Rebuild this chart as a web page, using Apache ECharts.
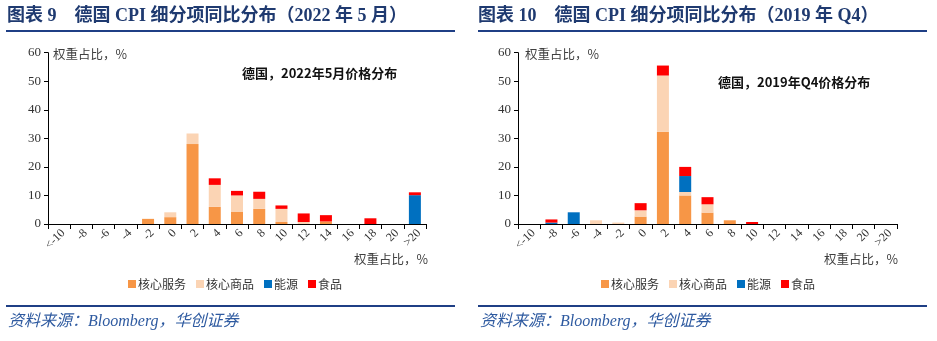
<!DOCTYPE html>
<html><head><meta charset="utf-8">
<script src="https://cdn.jsdelivr.net/npm/echarts@6/dist/echarts.min.js"></script>
<style>html,body{margin:0;padding:0;background:#fff}#c{width:937px;height:341px}</style>
</head><body><div id="c"></div>
<script>
var categories = ['<-10','-8','-6','-4','-2','0','2','4','6','8','10','12','14','16','18','20','>20'];
var yTicks = [0,10,20,30,40,50,60];
// Chart 9: 2022-05
var svc22  = [0,0,0,0,1.8,2.4,28,6,4.2,5.3,0.7,0,0.9,0,0,0,0];
var gds22  = [0,0,0,0,0,1.7,3.7,7.7,5.8,3.5,4.6,0.7,0,0,0,0,0];
var eng22  = [0,0,0,0,0,0,0,0,0,0,0,0,0,0,0,0,10.1];
var food22 = [0,0,0,0,0,0,0,2.3,1.6,2.5,1.2,3.0,2.2,0,2.0,0,1.0];
// Chart 10: 2019 Q4
var svc19  = [0,0,0,0,0,2.6,32.3,10,4.0,1.3,0,0,0,0,0,0,0];
var gds19  = [0,0,0,1.3,0.5,2.2,19.7,1.2,2.9,0,0,0,0,0,0,0,0];
var eng19  = [0,0.5,4.1,0,0,0,0,5.6,0,0,0,0,0,0,0,0,0];
var food19 = [0,1.1,0,0,0,2.5,3.5,3.2,2.5,0,0.7,0,0,0,0,0,0];
var names = ['核心服务','核心商品','能源','食品'];
var colors = ['#F79646','#FBD4B4','#0070C0','#FF0000'];

var serif = "'Liberation Serif','Noto Sans CJK SC',serif";
var cjk = "'Noto Sans CJK SC',sans-serif";
var chart = echarts.init(document.getElementById('c'));
function xAx(i){return {type:'category',gridIndex:i,data:categories,boundaryGap:true,
  axisLine:{lineStyle:{color:'#000',width:1}},axisTick:{show:true,length:5,lineStyle:{color:'#000'},interval:0},
  axisLabel:{rotate:45,interval:0,fontSize:12,color:'#333',fontFamily:serif,margin:3,verticalAlign:'top'}};}
function yAx(i){return {type:'value',gridIndex:i,min:0,max:60,interval:10,
  axisLine:{show:true,lineStyle:{color:'#000'}},axisTick:{show:true,length:4,lineStyle:{color:'#000'}},
  splitLine:{show:false},axisLabel:{fontSize:13,color:'#333',fontFamily:serif,margin:7}};}
var series=[];
var sets=[[svc22,gds22,eng22,food22],[svc19,gds19,eng19,food19]];
sets.forEach(function(s,gi){
  s.forEach(function(d,k){
    series.push({name:names[k],type:'bar',stack:'s'+gi,xAxisIndex:gi,yAxisIndex:gi,data:d,barWidth:12,
      itemStyle:{color:colors[k]}});
  });
});
function hdr(x,text){return {type:'text',left:x,top:7,style:{text:text,font:"bold 18px "+serif,fill:'#1F3A70'}};}
function line(x1,x2,y,w){return {type:'line',shape:{x1:x1,y1:y,x2:x2,y2:y},style:{stroke:'#1F3F85',lineWidth:w}};}
function txt(x,y,t,f,c){return {type:'text',left:x,top:y,style:{text:t,font:f,fill:c}};}
var lg = {itemWidth:8,itemHeight:8,itemGap:10,icon:'rect',textStyle:{fontSize:12,color:'#333',fontFamily:cjk,padding:[0,0,0,-3]}};
chart.setOption({
  animation:false,
  grid:[{left:48,top:52.7,width:378,height:171.3},{left:518,top:52.7,width:379,height:171.3}],
  xAxis:[xAx(0),xAx(1)], yAxis:[yAx(0),yAx(1)],
  legend:[Object.assign({data:names,left:123,top:273},lg),Object.assign({data:names,left:596,top:273},lg)],
  series:series,
  graphic:[
    hdr(7,'图表 9    德国 CPI 细分项同比分布（2022 年 5 月）'),
    hdr(478,'图表 10    德国 CPI 细分项同比分布（2019 年 Q4）'),
    line(6,455,31,2), line(478,927,31,2),
    line(6,455,306,2), line(478,927,306,2),
    txt(8,314,'资料来源：Bloomberg，华创证券',"italic 16px "+serif,'#2E5AA0'),
    txt(480,314,'资料来源：Bloomberg，华创证券',"italic 16px "+serif,'#2E5AA0'),
    txt(53,48,'权重占比，%',"12.5px "+cjk,'#404040'),
    txt(525,48,'权重占比，%',"12.5px "+cjk,'#404040'),
    txt(354,253,'权重占比，%',"12.5px "+cjk,'#404040'),
    txt(824,253,'权重占比，%',"12.5px "+cjk,'#404040'),
    txt(242,67,'德国，2022年5月价格分布',"bold 13px "+cjk,'#111'),
    txt(718,76,'德国，2019年Q4价格分布',"bold 13px "+cjk,'#111')
  ]
});
</script></body></html>
